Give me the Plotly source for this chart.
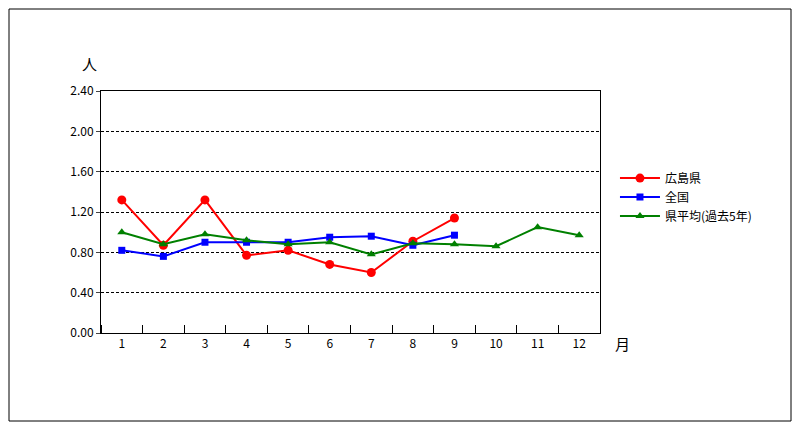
import plotly.graph_objects as go

months = list(range(1, 13))
hiroshima = [1.32, 0.87, 1.32, 0.77, 0.82, 0.68, 0.60, 0.91, 1.14]
zenkoku = [0.82, 0.76, 0.90, 0.90, 0.90, 0.95, 0.96, 0.87, 0.97]
ken_avg = [1.00, 0.88, 0.98, 0.92, 0.88, 0.90, 0.78, 0.89, 0.88, 0.86, 1.05, 0.97]
y_ticks = [0.0, 0.4, 0.8, 1.2, 1.6, 2.0, 2.4]

fig = go.Figure()
fig.add_trace(go.Scatter(x=months[:len(hiroshima)], y=hiroshima, name="広島県",
                         mode="lines+markers", line=dict(color="#ff0000", width=2),
                         marker=dict(symbol="circle", size=9, color="#ff0000")))
fig.add_trace(go.Scatter(x=months[:len(zenkoku)], y=zenkoku, name="全国",
                         mode="lines+markers", line=dict(color="#0000ff", width=2),
                         marker=dict(symbol="square", size=7, color="#0000ff")))
fig.add_trace(go.Scatter(x=months, y=ken_avg, name="県平均(過去5年)",
                         mode="lines+markers", line=dict(color="#008000", width=2),
                         marker=dict(symbol="triangle-up", size=8, color="#008000")))

# page has an 8px body margin, so the figure is sized to fit inside the window
W, H = 784, 414
l, r, t, b = 93, 192, 83, 89
pw, ph = W - l - r, H - t - b

fig.update_layout(
    width=W, height=H,
    margin=dict(l=l, r=r, t=t, b=b),
    paper_bgcolor="white", plot_bgcolor="white",
    font=dict(family="Noto Sans CJK JP", size=12, color="black"),
    showlegend=True,
    legend=dict(x=1.03, y=0.7, xanchor="left", yanchor="top",
                font=dict(size=12), tracegroupgap=0, itemwidth=40),
    xaxis=dict(range=[0.5, 12.5], tickvals=months, ticks="", showgrid=False,
               showline=True, linecolor="black", mirror=True, zeroline=False,
               minor=dict(ticks="inside", tick0=0.5, dtick=1, ticklen=8, tickcolor="black")),
    yaxis=dict(range=[0, 2.4], tickvals=y_ticks, tickformat=".2f",
               showgrid=True, gridcolor="black", griddash="3px,2px", gridwidth=1,
               showline=True, linecolor="black", mirror=True, zeroline=False,
               ticks="outside", ticklen=4),
    annotations=[
        dict(text="人", x=-21 / pw, y=1 + 40 / ph, xref="paper", yref="paper",
             showarrow=False, font=dict(size=15)),
        dict(text="月", x=1 + 32 / pw, y=-23 / ph, xref="paper", yref="paper",
             showarrow=False, font=dict(size=15)),
    ],
    shapes=[dict(type="rect", xref="paper", yref="paper",
                 x0=-(l - 1) / pw, x1=1 + (r - 1) / pw,
                 y0=-(b - 1) / ph, y1=1 + (t - 1) / ph,
                 line=dict(color="black", width=1))],
)

fig.write_html("out.html")
